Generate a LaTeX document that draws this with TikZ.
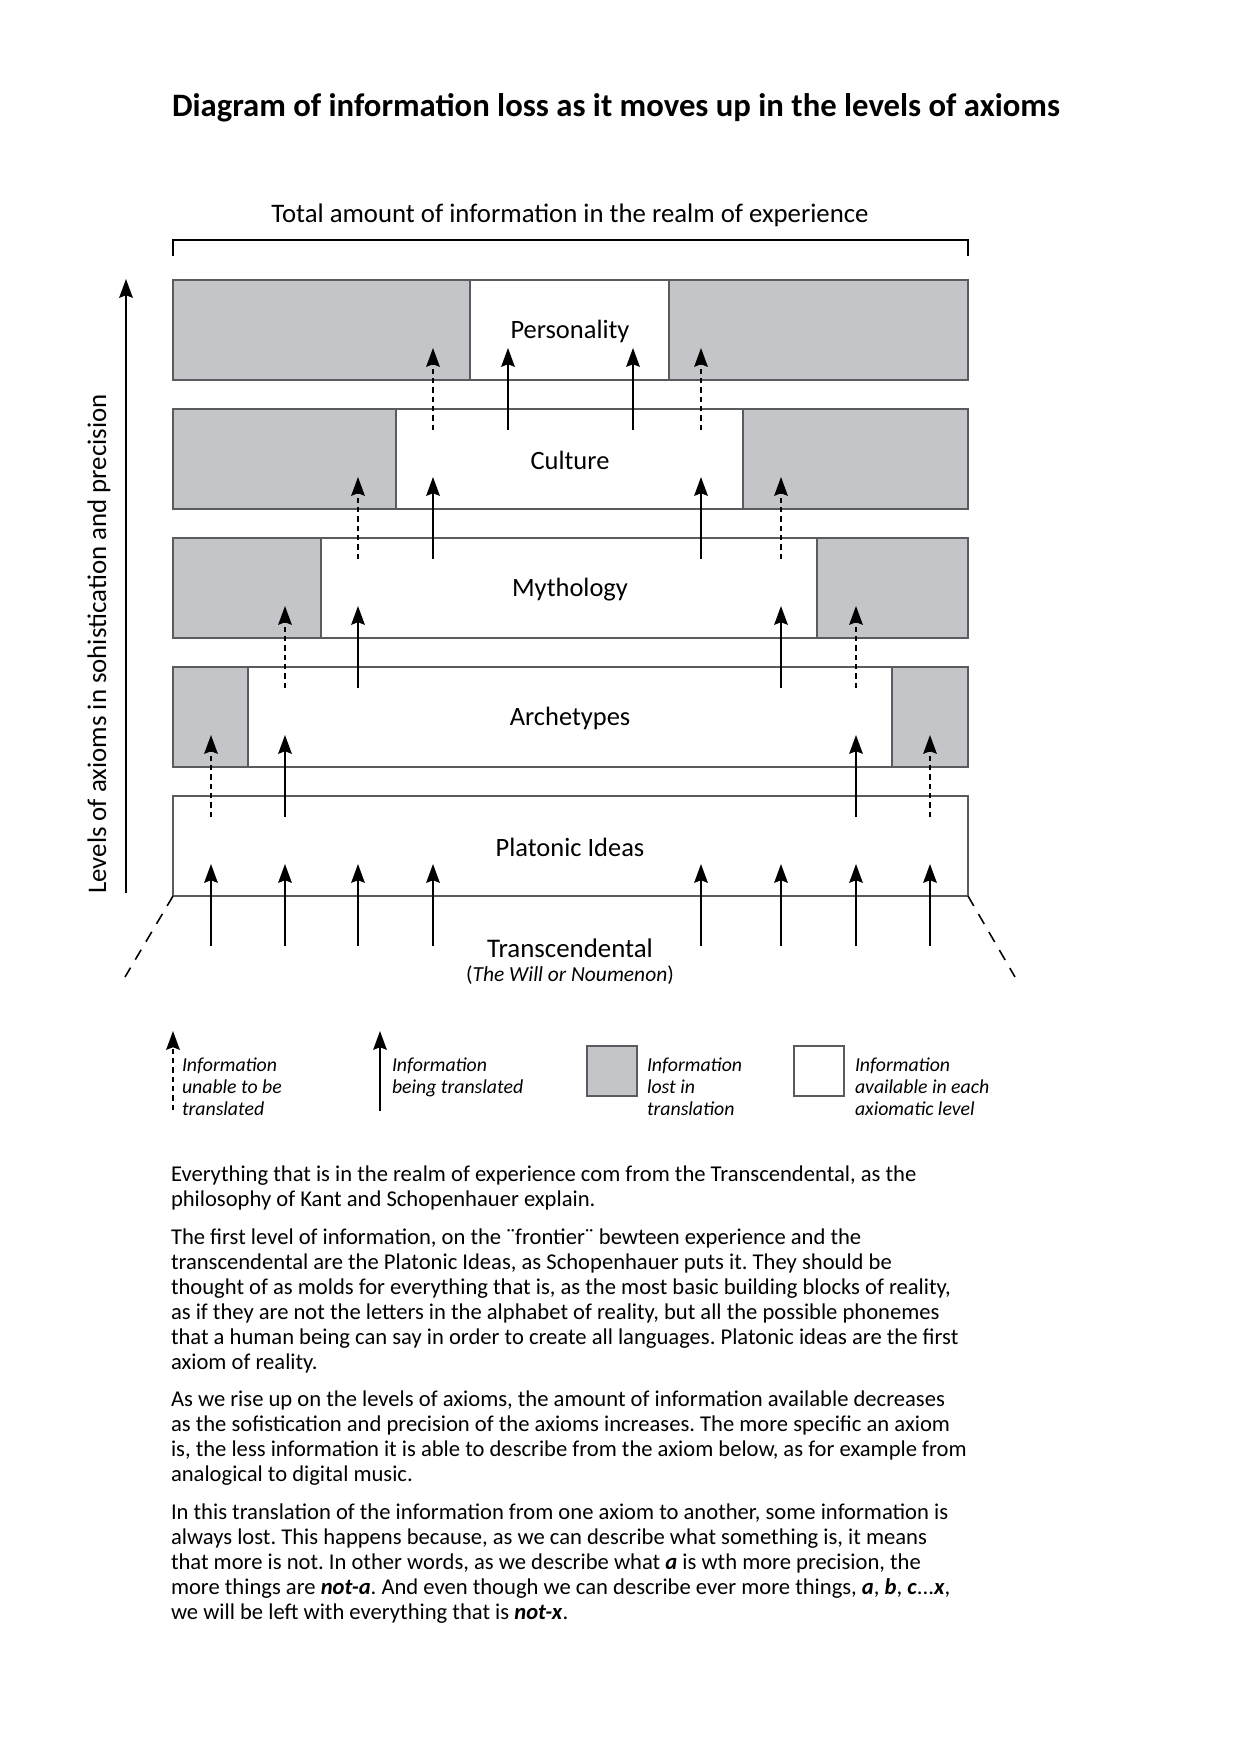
\documentclass[tikz,border=0pt]{standalone}
\usepackage{fontspec}
\setmainfont{Carlito}
\usetikzlibrary{arrows.meta,fit}
\definecolor{lostgray}{RGB}{196,197,201}
\definecolor{edgegray}{RGB}{90,91,94}
\begin{document}
\frenchspacing
\begin{tikzpicture}[x=0.48007pt,y=-0.48007pt,
  every node/.style={inner sep=0pt, outer sep=0pt},
  lostbox/.style={draw=edgegray, fill=lostgray, line width=0.7pt, inner sep=0pt},
  availbox/.style={draw=edgegray, fill=white, line width=0.7pt, inner sep=0pt},
  lvllabel/.style={font=\fontsize{12.7}{15}\selectfont},
  tipstyle/.style={-{Stealth[length=9pt,width=6.5pt,inset=1.2pt]}},
  translated/.style={line width=0.9pt, tipstyle},
  untranslated/.style={line width=0.9pt, dash pattern=on 2.5pt off 2pt, tipstyle},
  frontier/.style={line width=0.75pt, dash pattern=on 5.5pt off 4.5pt},
  bracketline/.style={line width=1pt},
  legendtext/.style={font=\itshape\fontsize{9.5}{10.6}\selectfont, align=left, anchor=north west},
]
\useasboundingbox[fill=white] (0,0) rectangle (1240,1754);

% title
\node[font=\bfseries\fontsize{15.7}{18}\selectfont, anchor=base west] (title) at (172,116)
  {Diagram of information loss as it moves up in the levels of axioms};

% total bracket
\node[font=\fontsize{12.85}{15}\selectfont] (total) at (570,215)
  {Total amount of information in the realm of experience};
\coordinate (bl) at (173,256);
\coordinate (blt) at (173,240);
\coordinate (brt) at (968,240);
\coordinate (br) at (968,256);
\draw[bracketline] (bl) -- (blt) -- (brt) -- (br);

% levels
\foreach \i/\nm/\wl/\wr/\lab in {0/pers/470/669/Personality, 1/cult/396/743/Culture,
    2/myth/321/817/Mythology, 3/arch/248/892/Archetypes, 4/plat/173/968/Platonic Ideas} {
  \pgfmathsetmacro\yt{280+129*\i}
  \pgfmathsetmacro\yb{\yt+100}
  \node[lostbox, fit={(173,\yt) (968,\yb)}] (\nm) {};
  \node[availbox, fit={(\wl,\yt) (\wr,\yb)}] (\nm-w) {};
  \node[lvllabel] (\nm-l) at (570,\yt+51.5) {\lab};
}

% translation arrows
\foreach \r/\x/\k [count=\n] in {
    0/433/untranslated, 0/508/translated, 0/633/translated, 0/701/untranslated,
    1/358/untranslated, 1/433/translated, 1/701/translated, 1/781/untranslated,
    2/285/untranslated, 2/358/translated, 2/781/translated, 2/856/untranslated,
    3/211/untranslated, 3/285/translated, 3/856/translated, 3/930/untranslated,
    4/211/translated, 4/285/translated, 4/358/translated, 4/433/translated,
    4/701/translated, 4/781/translated, 4/856/translated, 4/930/translated} {
  \pgfmathsetmacro\ytip{280+129*\r+68}
  \pgfmathsetmacro\ytail{280+129*(\r+1)+21}
  \coordinate (a\n-s) at (\x,\ytail);
  \coordinate (a\n-e) at (\x,\ytip);
  \draw[\k] (a\n-s) -- (a\n-e);
}

% frontier dashed lines
\coordinate (fl) at (125,977);
\coordinate (fr) at (1015,977);
\draw[frontier] (plat.south west) -- (fl);
\draw[frontier] (plat.south east) -- (fr);

\node[font=\fontsize{12.9}{15}\selectfont] (trans) at (570,948) {Transcendental};
\node[font=\fontsize{10.3}{12}\selectfont] (will) at (570,975) {(\textit{The Will or Noumenon})};

% vertical axis
\coordinate (ax0) at (126,893);
\coordinate (ax1) at (126,279);
\draw[translated] (ax0) -- (ax1);
\node[rotate=90, font=\fontsize{12.9}{15}\selectfont] (axlab) at (99,644)
  {Levels of axioms in sohistication and precision};

% legend
\coordinate (l1s) at (173,1110);
\coordinate (l1e) at (173,1031);
\draw[untranslated] (l1s) -- (l1e);
\node[legendtext] (lt1) at (182,1058) {Information\\unable to be\\translated};
\coordinate (l2s) at (380,1111);
\coordinate (l2e) at (380,1031);
\draw[translated] (l2s) -- (l2e);
\node[legendtext] (lt2) at (392,1058) {Information\\being translated};
\node[lostbox, fit={(587,1046) (637,1096)}] (lg) {};
\node[legendtext] (lt3) at (647,1058) {Information\\lost in\\translation};
\node[availbox, fit={(794,1046) (844,1096)}] (lw) {};
\node[legendtext] (lt4) at (855,1058) {Information\\available in each\\axiomatic level};

% body text
\node[font=\fontsize{10.85}{12}\selectfont, align=left, anchor=north west] (body) at (171,1166) {%
Everything that is in the realm of experience com from the Transcendental, as the\\
philosophy of Kant and Schopenhauer explain.\\[6pt]
The first level of information, on the ¨frontier¨ bewteen experience and the\\
transcendental are the Platonic Ideas, as Schopenhauer puts it. They should be\\
thought of as molds for everything that is, as the most basic building blocks of reality,\\
as if they are not the letters in the alphabet of reality, but all the possible phonemes\\
that a human being can say in order to create all languages. Platonic ideas are the first\\
axiom of reality.\\[6pt]
As we rise up on the levels of axioms, the amount of information available decreases\\
as the sofistication and precision of the axioms increases. The more specific an axiom\\
is, the less information it is able to describe from the axiom below, as for example from\\
analogical to digital music.\\[6pt]
In this translation of the information from one axiom to another, some information is\\
always lost. This happens because, as we can describe what something is, it means\\
that more is not. In other words, as we describe what \textbf{\textit{a}} is wth more precision, the\\
more things are \textbf{\textit{not-a}}. And even though we can describe ever more things, \textbf{\textit{a}}, \textbf{\textit{b}}, \textbf{\textit{c}}...\textbf{\textit{x}},\\
we will be left with everything that is \textbf{\textit{not-x}}.};
\end{tikzpicture}
\end{document}
